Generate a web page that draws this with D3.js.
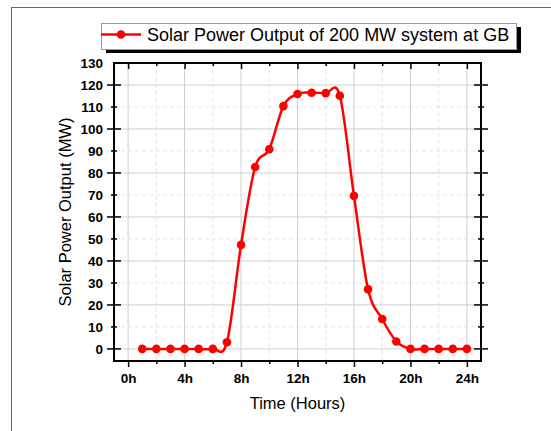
<!DOCTYPE html>
<html>
<head>
<meta charset="utf-8">
<script src="https://cdn.jsdelivr.net/npm/d3@7"></script>
<style>
  html, body { margin: 0; padding: 0; background: #fff; }
  svg { display: block; font-family: "Liberation Sans", Arial, sans-serif; }
</style>
</head>
<body>
<div id="chart"></div>
<script>
// values
const hours = [1, 2, 3, 4, 5, 6, 7, 8, 9, 10, 11, 12, 13, 14, 15, 16, 17, 18, 19, 20, 21, 22, 23, 24];
const power = [0, 0, 0, 0, 0, 0, 3, 47.3, 82.7, 90.8, 110.4, 115.9, 116.5, 116.3, 115.1, 69.6, 27.1, 13.6, 3.4, 0, 0, 0, 0, 0];
const xMajor = [0, 4, 8, 12, 16, 20, 24];
const xMinor = [2, 6, 10, 14, 18, 22];
const yMajor = [0, 20, 40, 60, 80, 100, 120];
const yMinor = [10, 30, 50, 70, 90, 110, 130];
const seriesName = "Solar Power Output of 200 MW system at GB";

const width = 551, height = 431;
const margin = { top: 63, right: 70, bottom: 70, left: 114 };
const red = "#ff0000";

const svg = d3.select("#chart").append("svg")
  .attr("width", width)
  .attr("height", height);

// outer frame
svg.append("rect")
  .attr("x", 11.5).attr("y", 7.5)
  .attr("width", 700).attr("height", 600)
  .attr("fill", "none").attr("stroke", "#666").attr("stroke-width", 1);

const x = d3.scaleLinear().domain([-1, 25]).range([margin.left, width - margin.right]);
const y = d3.scaleLinear().domain([-5.5, 130]).range([height - margin.bottom, margin.top]);

const x0 = margin.left, x1 = width - margin.right;
const y0 = height - margin.bottom, y1 = margin.top;

// grid
const grid = svg.append("g");
grid.selectAll(".vmin").data(xMinor).join("line")
  .attr("x1", d => x(d)).attr("x2", d => x(d)).attr("y1", y0).attr("y2", y1)
  .attr("stroke", "#e4e4e4").attr("stroke-dasharray", "4,3");
grid.selectAll(".hmin").data(yMinor.filter(d => d < 130)).join("line")
  .attr("y1", d => y(d)).attr("y2", d => y(d)).attr("x1", x0).attr("x2", x1)
  .attr("stroke", "#e4e4e4").attr("stroke-dasharray", "4,3");
grid.selectAll(".vmaj").data(xMajor).join("line")
  .attr("x1", d => x(d)).attr("x2", d => x(d)).attr("y1", y0).attr("y2", y1)
  .attr("stroke", "#cfcfcf");
grid.selectAll(".hmaj").data(yMajor).join("line")
  .attr("y1", d => y(d)).attr("y2", d => y(d)).attr("x1", x0).attr("x2", x1)
  .attr("stroke", "#cfcfcf");

// axes
const fmtH = d => d + "h";
const styleAxis = (sel) => {
  sel.select(".domain").remove();
  sel.selectAll(".tick line").attr("stroke", "#000").attr("stroke-width", 1.5);
  sel.selectAll(".tick text")
    .attr("fill", "#000")
    .style("font-size", "13.5px")
    .style("font-weight", "bold")
    .style("font-family", "'Liberation Sans', Arial, sans-serif");
};

// bottom
svg.append("g").attr("transform", `translate(0,${y0})`)
  .call(d3.axisBottom(x).tickValues(xMajor).tickFormat(fmtH).tickSize(6).tickPadding(6))
  .call(styleAxis);
svg.append("g").attr("transform", `translate(0,${y0})`)
  .call(d3.axisBottom(x).tickValues(xMinor).tickFormat("").tickSize(3))
  .call(styleAxis);
// top (inward)
svg.append("g").attr("transform", `translate(0,${y1})`)
  .call(d3.axisBottom(x).tickValues(xMajor).tickFormat("").tickSize(6))
  .call(styleAxis);
svg.append("g").attr("transform", `translate(0,${y1})`)
  .call(d3.axisBottom(x).tickValues(xMinor).tickFormat("").tickSize(3))
  .call(styleAxis);

// left: ticks cross the axis
const crossTicks = (g, vals, half) => {
  g.selectAll(null).data(vals).join("line")
    .attr("y1", d => y(d)).attr("y2", d => y(d))
    .attr("x1", -half).attr("x2", half)
    .attr("stroke", "#000").attr("stroke-width", 1.5);
};
const left = svg.append("g").attr("transform", `translate(${x0},0)`);
crossTicks(left, yMajor, 7);
crossTicks(left, yMinor.filter(d => d < 130), 3);
left.selectAll("text").data(yMajor.concat(yMinor)).join("text")
  .attr("x", -11).attr("y", d => y(d)).attr("dy", "0.35em")
  .attr("text-anchor", "end")
  .style("font-size", "13.5px").style("font-weight", "bold")
  .text(d => d);

const right = svg.append("g").attr("transform", `translate(${x1},0)`);
crossTicks(right, yMajor, 7);
crossTicks(right, yMinor.filter(d => d < 130), 3);

// frame
svg.append("rect")
  .attr("x", x0).attr("y", y1).attr("width", x1 - x0).attr("height", y0 - y1)
  .attr("fill", "none").attr("stroke", "#000").attr("stroke-width", 2);

// axis titles
svg.append("text")
  .attr("x", (x0 + x1) / 2).attr("y", 409)
  .attr("text-anchor", "middle")
  .style("font-size", "16.5px")
  .text("Time (Hours)");
svg.append("text")
  .attr("transform", `translate(71,${(y0 + y1) / 2}) rotate(-90)`)
  .attr("text-anchor", "middle")
  .style("font-size", "16.5px")
  .text("Solar Power Output (MW)");

// series
const pts = hours.map((h, i) => [h, power[i]]);
const line = d3.line().x(d => x(d[0])).y(d => y(d[1])).curve(d3.curveCardinal.tension(0));
svg.append("path").datum(pts)
  .attr("d", line)
  .attr("fill", "none").attr("stroke", red).attr("stroke-width", 2.5);
svg.append("g").selectAll("circle").data(pts).join("circle")
  .attr("cx", d => x(d[0])).attr("cy", d => y(d[1])).attr("r", 4.3)
  .attr("fill", red);

// legend
const lg = svg.append("g");
lg.append("rect").attr("x", 106).attr("y", 27).attr("width", 415).attr("height", 26).attr("fill", "#000");
lg.append("rect").attr("x", 101.5).attr("y", 23.5).attr("width", 415).attr("height", 26)
  .attr("fill", "#fff").attr("stroke", "#999").attr("stroke-width", 1);
lg.append("line").attr("x1", 101).attr("x2", 141).attr("y1", 34.5).attr("y2", 34.5)
  .attr("stroke", red).attr("stroke-width", 2.5);
lg.append("circle").attr("cx", 121).attr("cy", 34.5).attr("r", 4.3).attr("fill", red);
lg.append("text").attr("x", 147).attr("y", 41)
  .style("font-size", "18px")
  .text(seriesName);
</script>
</body>
</html>
